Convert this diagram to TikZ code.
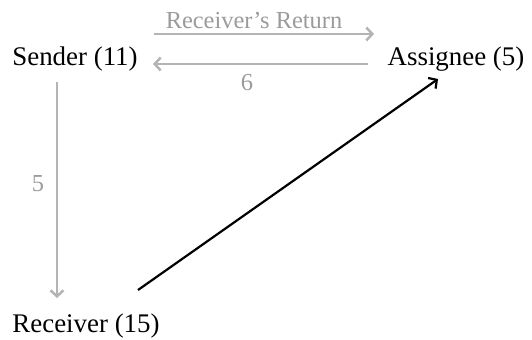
\documentclass[tikz,border=0pt]{standalone}
\usepackage{fontspec}
\setmainfont{Liberation Serif}
\usetikzlibrary{arrows.meta}
\definecolor{lightline}{RGB}{180,180,180}
\definecolor{labelgray}{RGB}{155,155,155}
\begin{document}
\begin{tikzpicture}[x=1bp,y=-1bp,
  party/.style={inner sep=0pt, anchor=base, font=\fontsize{27}{31}\selectfont, text=black},
  lab/.style={inner sep=0pt, anchor=base, font=\fontsize{24.5}{28}\selectfont, text=labelgray},
  grayarrow/.style={draw=lightline, line width=2.5bp, -{Straight Barb[length=6bp,width=13bp,line width=2.5bp]}},
  blackarrow/.style={draw=black, line width=2.2bp, -{Straight Barb[length=6bp,width=13bp,line width=2.2bp]}}]
\useasboundingbox (0,0) rectangle (532,339);
\node[party] (sender) at (75,65) {Sender (11)};
\node[party] (assignee) at (456,65) {Assignee (5)};
\node[party] (receiver) at (86,332) {Receiver (15)};
\coordinate (topL) at (154,34);
\coordinate (topR) at (374,34);
\coordinate (botR) at (368,64);
\coordinate (botL) at (153,64);
\coordinate (vT) at (57,82);
\coordinate (vB) at (57,298);
\coordinate (bS) at (138,290);
\coordinate (bE) at (438,79);
\draw[grayarrow] (topL) -- (topR);
\node[lab] (rr) at (254,28) {Receiver’s Return};
\draw[grayarrow] (botR) -- (botL);
\node[lab] (six) at (247,90) {6};
\draw[grayarrow] (vT) -- (vB);
\node[lab] (five) at (38,191) {5};
\draw[blackarrow] (bS) -- (bE);
\end{tikzpicture}
\end{document}
